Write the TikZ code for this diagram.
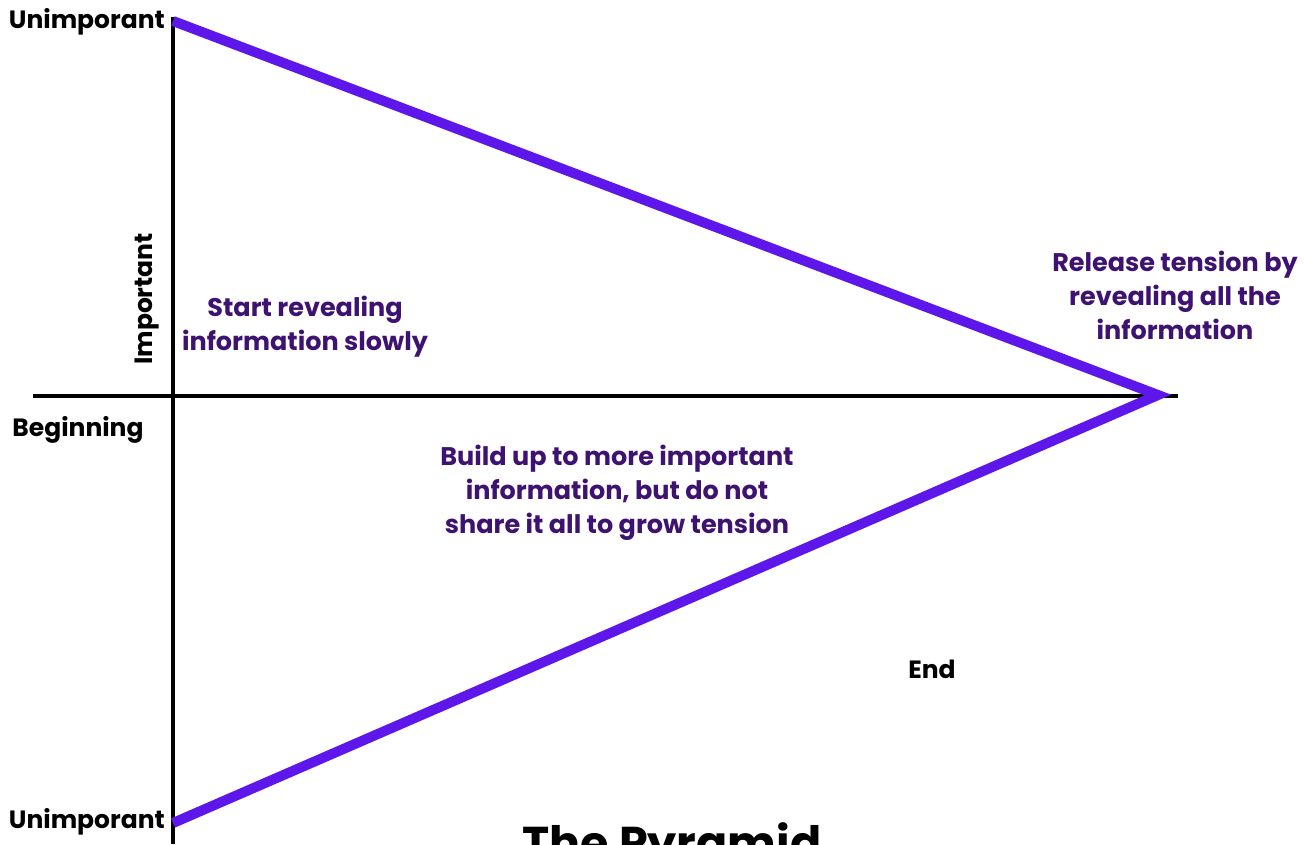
\documentclass[tikz,border=0pt]{standalone}
\usepackage{fontspec}
\setmainfont{Poppins}
\definecolor{linepurple}{HTML}{5E17EB}
\definecolor{textpurple}{HTML}{3E1270}
\begin{document}
\begin{tikzpicture}[x=1pt,y=-1pt,
  axis/.style={line width=4pt,black},
  pyr/.style={line width=10pt,linepurple},
  axlabel/.style={font=\fontsize{25}{30}\selectfont\bfseries, text=black, inner sep=0pt},
  note/.style={font=\fontsize{25.5}{34}\selectfont\bfseries, text=textpurple, align=center, inner sep=0pt}]
\useasboundingbox (0,0) rectangle (1307,844);
% axes
\coordinate (vtop) at (173,17);
\coordinate (vbot) at (173,844);
\coordinate (hl) at (33,396);
\coordinate (hr) at (1178,396);
\draw[axis] (vtop) -- (vbot);
\draw[axis] (hl) -- (hr);
% pyramid
\coordinate (A) at (173,21);
\coordinate (B) at (1158,395);
\coordinate (C) at (173,823);
\draw[pyr, line join=miter] (A) -- (B) -- (C);
% labels
\node[axlabel, anchor=east] (u1) at (165,22) {Unimporant};
\node[axlabel, anchor=east] (u2) at (165,822) {Unimporant};
\node[axlabel, rotate=90] (imp) at (147,299) {Important};
\node[axlabel] (beg) at (78,430) {Beginning};
\node[axlabel] (end) at (932,669) {End};
\node[note] (n1) at (305,327) {Start revealing\\information slowly};
\node[note] (n2) at (1175,295) {Release tension by\\revealing all the\\information};
\node[note] (n3) at (617,493) {Build up to more important\\information, but do not\\share it all to grow tension};
\node[font=\fontsize{46}{50}\selectfont\bfseries, inner sep=0pt, anchor=north] (title) at (672,822) {The Pyramid};
\end{tikzpicture}
\end{document}
